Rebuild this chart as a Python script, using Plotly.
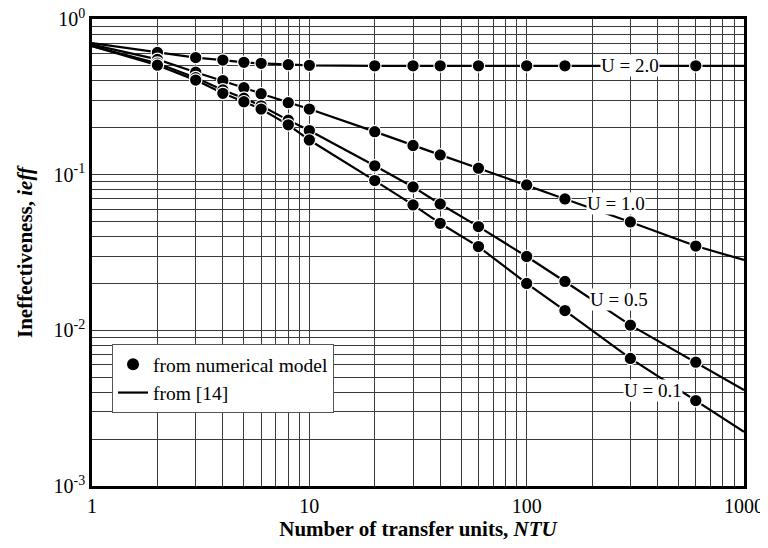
import math
import plotly.graph_objects as go

# ---- data ----
ntu_model = [2, 3, 4, 5, 6, 8, 10, 20, 30, 40, 60, 100, 150, 300, 600]
model_u20 = [0.61, 0.565, 0.545, 0.527, 0.519, 0.509, 0.504, 0.50, 0.50, 0.50, 0.50, 0.50, 0.50, None, 0.50]
model_u10 = [0.55, 0.455, 0.402, 0.362, 0.331, 0.29, 0.264, 0.189, 0.154, 0.134, 0.110, 0.0859, 0.0698, 0.0497, 0.0348]
model_u05 = [0.52, 0.42, 0.35, 0.31, 0.277, 0.224, 0.192, 0.114, 0.0834, 0.0648, 0.0464, 0.0298, 0.0206, 0.0108, 0.00624]
model_u01 = [0.505, 0.405, 0.333, 0.294, 0.264, 0.209, 0.167, 0.0916, 0.0639, 0.0487, 0.0345, 0.020, 0.0134, 0.0066, 0.00354]

ntu_line = [1, 2, 3, 4, 5, 6, 8, 10, 20, 30, 40, 60, 100, 150, 300, 600, 1000]
line_u20 = [0.70, 0.61, 0.565, 0.545, 0.527, 0.519, 0.509, 0.504, 0.50, 0.50, 0.50, 0.50, 0.50, 0.50, 0.50, 0.50, 0.50]
line_u10 = [0.685, 0.55, 0.455, 0.402, 0.362, 0.331, 0.29, 0.264, 0.189, 0.154, 0.134, 0.110, 0.0859, 0.0698, 0.0497, 0.0348, 0.0283]
line_u05 = [0.67, 0.52, 0.42, 0.35, 0.31, 0.277, 0.224, 0.192, 0.114, 0.0834, 0.0648, 0.0464, 0.0298, 0.0206, 0.0108, 0.00624, 0.00414]
line_u01 = [0.67, 0.505, 0.405, 0.333, 0.294, 0.264, 0.209, 0.167, 0.0916, 0.0639, 0.0487, 0.0345, 0.020, 0.0134, 0.0066, 0.00354, 0.00223]

curve_labels = ["U = 2.0", "U = 1.0", "U = 0.5", "U = 0.1"]
label_ntu = [300, 259, 266, 380]
label_val = [0.50, 0.0655, 0.0158, 0.0041]

x_tick_vals = [1, 10, 100, 1000]
x_tick_labels = ["1", "10", "100", "1000"]
y_tick_vals = [0.001, 0.01, 0.1, 1.0]
y_tick_labels = ["10<sup>-3</sup>", "10<sup>-2</sup>", "10<sup>-1</sup>", "10<sup>0</sup>"]

FONT = "Liberation Serif"

fig = go.Figure()

lines = [line_u20, line_u10, line_u05, line_u01]
models = [model_u20, model_u10, model_u05, model_u01]

for ly in lines:
    fig.add_trace(go.Scatter(x=ntu_line, y=ly, mode="lines",
                             line=dict(color="black", width=2.2),
                             showlegend=False, hoverinfo="skip"))
for my in models:
    fig.add_trace(go.Scatter(x=ntu_model, y=my, mode="markers",
                             marker=dict(color="black", size=12.5, line=dict(color="white", width=1.2)),
                             showlegend=False))

# legend entries
fig.add_trace(go.Scatter(x=[None], y=[None], mode="markers", name="from numerical model",
                         marker=dict(color="black", size=12)))
fig.add_trace(go.Scatter(x=[None], y=[None], mode="lines", name="from [14]",
                         line=dict(color="black", width=2.2)))

for txt, xv, yv in zip(curve_labels, label_ntu, label_val):
    fig.add_annotation(x=math.log10(xv), y=math.log10(yv),
                       xref="x", yref="y", text=txt, showarrow=False,
                       font=dict(family=FONT, size=19, color="black"),
                       bgcolor="white", borderpad=0)

# minor gridlines at 2..9 of every decade
x_minor = [d * k for d in (1, 10, 100) for k in range(2, 10)]
y_minor = [round(d * k, 6) for d in (0.001, 0.01, 0.1) for k in range(2, 10)]

grid_col = "#3a3a3a"
fig.update_xaxes(type="log", range=[0, 3], tickmode="array", tickvals=x_tick_vals, ticktext=x_tick_labels,
                 showgrid=True, gridcolor=grid_col, gridwidth=1,
                 minor=dict(tickmode="array", tickvals=x_minor, showgrid=True, gridcolor=grid_col, gridwidth=1, ticks=""),
                 showline=True, linecolor="black", linewidth=2.5, mirror=True,
                 ticks="", zeroline=False, automargin=False, ticklabeloverflow="allow",
                 tickfont=dict(family=FONT, size=20, color="black"),
                 title=dict(text="<b>Number of transfer units, <i>NTU</i></b>",
                            font=dict(family=FONT, size=21, color="black"), standoff=6))
fig.update_yaxes(type="log", range=[-3, 0], tickmode="array", tickvals=y_tick_vals, ticktext=y_tick_labels,
                 showgrid=True, gridcolor=grid_col, gridwidth=1,
                 minor=dict(tickmode="array", tickvals=y_minor, showgrid=True, gridcolor=grid_col, gridwidth=1, ticks=""),
                 showline=True, linecolor="black", linewidth=2.5, mirror=True,
                 ticks="", zeroline=False, automargin=False, ticklabeloverflow="allow",
                 tickfont=dict(family=FONT, size=20, color="black"),
                 title=dict(text="<b>Ineffectiveness, <i>ieff</i></b>",
                            font=dict(family=FONT, size=21, color="black"), standoff=16))

# the page body adds an 8 px offset, so the figure is 760x540 and the margins are shifted
fig.update_layout(
    width=760, height=540,
    margin=dict(l=84, r=24, t=11, b=62),
    paper_bgcolor="white", plot_bgcolor="white",
    font=dict(family=FONT, color="black"),
    legend=dict(x=0.0307, y=0.304, xanchor="left", yanchor="top",
                bgcolor="white", bordercolor="#555", borderwidth=1,
                font=dict(family=FONT, size=19.5, color="black"),
                tracegroupgap=0, itemwidth=30),
)

fig.write_html("out.html")
